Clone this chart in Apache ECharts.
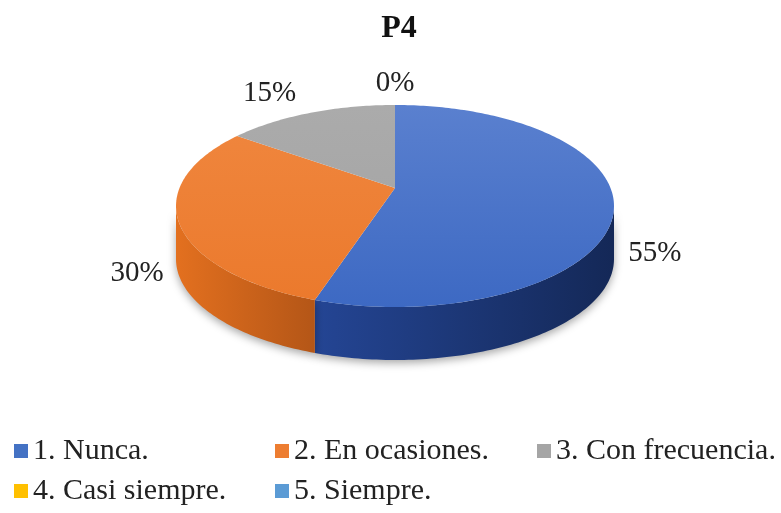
<!DOCTYPE html>
<html>
<head>
<meta charset="utf-8">
<title>P4</title>
<script src="https://cdn.jsdelivr.net/npm/echarts@6/dist/echarts.min.js"></script>
<style>
  html, body { margin: 0; padding: 0; background: #fff; }
  #main { width: 781px; height: 513px; }
</style>
</head>
<body>
<div id="main"></div>
<script>
// data
var categories = ["1. Nunca.", "2. En ocasiones.", "3. Con frecuencia.", "4. Casi siempre.", "5. Siempre."];
var values = [55, 30, 15, 0, 0];

// styles
var colors = ["#4472C4", "#ED7D31", "#A5A5A5", "#FFC000", "#5B9BD5"];
var topLight = ["#5a80cf", "#f0873f", "#ababab", "#ffc81a", "#6aa6dc"];
var topDark = ["#3d69c3", "#eb792c", "#a2a2a2", "#f7b800", "#4f90cc"];
var wallLight = ["#244594", "#e3701f", "#8a8a8a", "#d9a300", "#3f78ad"];
var wallDark = ["#142857", "#b45617", "#6a6a6a", "#b08400", "#2c5a85"];
var legendLeft = [14, 275, 537, 14, 275];
var legendTop = [436, 436, 436, 476, 476];

var FONT = '"Liberation Serif", "Times New Roman", serif';
// pie in perspective: centre point, half axes, perspective factor, wall depth
var PIE = { cx: 395, cy: 188, a: 215.5, b: 97.8, k: 0.178, depth: 53 };

var total = values.reduce(function (s, v) { return s + v; }, 0);
var bounds = [];
var acc = 0;
values.forEach(function (v) {
  bounds.push([acc / total, (acc + v) / total]);
  acc += v;
});

// angle t clockwise from 12 o'clock -> screen point on the rim
function pt(t, dy) {
  var u = Math.sin(t), v = -Math.cos(t);
  var s = 1 / (1 - PIE.k * v);
  return [PIE.cx + PIE.a * u * s, PIE.cy + PIE.b * v * s + (dy || 0)];
}

function arc(a, b, dy) {
  var n = Math.max(2, Math.ceil((b - a) / (Math.PI / 180)));
  var out = [];
  for (var j = 0; j <= n; j++) out.push(pt(a + (b - a) * j / n, dy));
  return out;
}

function renderItem(params, api) {
  var i = params.seriesIndex;
  var t0 = api.value(0) * 2 * Math.PI;
  var t1 = api.value(1) * 2 * Math.PI;
  var children = [];
  var edge = Math.acos(-PIE.k);
  if (t1 > t0) {
    var s = Math.max(t0, edge), e = Math.min(t1, 2 * Math.PI - edge);
    if (e > s) {
      var wall = arc(s, e, 0).concat(arc(s, e, PIE.depth).reverse());
      children.push({
        type: "polygon",
        shape: { points: wall },
        style: {
          fill: new echarts.graphic.LinearGradient(0, 0, 1, 0, [
            { offset: 0, color: wallLight[i] },
            { offset: 1, color: wallDark[i] }
          ]),
          shadowBlur: 8,
          shadowOffsetY: 3,
          shadowColor: "rgba(0,0,0,0.35)"
        }
      });
    }
    var top = [[PIE.cx, PIE.cy]].concat(arc(t0, t1, 0));
    children.push({
      type: "polygon",
      shape: { points: top },
      style: {
        fill: new echarts.graphic.LinearGradient(0, 105, 0, 307, [
          { offset: 0, color: topLight[i] },
          { offset: 1, color: topDark[i] }
        ], true)
      }
    });
  }
  // label (skip a zero slice stacked on another zero slice)
  if (!(values[i] === 0 && i > 0 && values[i - 1] === 0)) {
    var m = (t0 + t1) / 2;
    var u = Math.sin(m), v = -Math.cos(m);
    var p = pt(m, 0);
    var lx = p[0] + 41 * Math.max(-1, Math.min(1, u * 3));
    var ly = p[1] + (v > 0 ? PIE.depth - 6 : -2) + 20 * v;
    children.push({
      type: "text",
      style: {
        text: Math.round(values[i] / total * 100) + "%",
        x: lx,
        y: ly,
        align: "center",
        verticalAlign: "middle",
        fill: "#222",
        fontSize: 29,
        fontFamily: FONT
      }
    });
  }
  return { type: "group", children: children };
}

var chart = echarts.init(document.getElementById("main"));
chart.setOption({
  backgroundColor: "#fff",
  animation: false,
  title: {
    text: "P4",
    left: 394,
    top: 8,
    textAlign: "center",
    textStyle: { fontSize: 32, fontWeight: "bold", fontFamily: FONT, color: "#111" }
  },
  legend: categories.map(function (name, i) {
    return {
      data: [name],
      left: legendLeft[i],
      top: legendTop[i],
      padding: 0,
      icon: "rect",
      itemWidth: 14,
      itemHeight: 14,
      textStyle: { fontSize: 30, fontFamily: FONT, color: "#222" }
    };
  }),
  series: categories.map(function (name, i) {
    return {
      type: "custom",
      name: name,
      coordinateSystem: "none",
      itemStyle: { color: colors[i] },
      renderItem: renderItem,
      data: [bounds[i]]
    };
  })
});
</script>
</body>
</html>
